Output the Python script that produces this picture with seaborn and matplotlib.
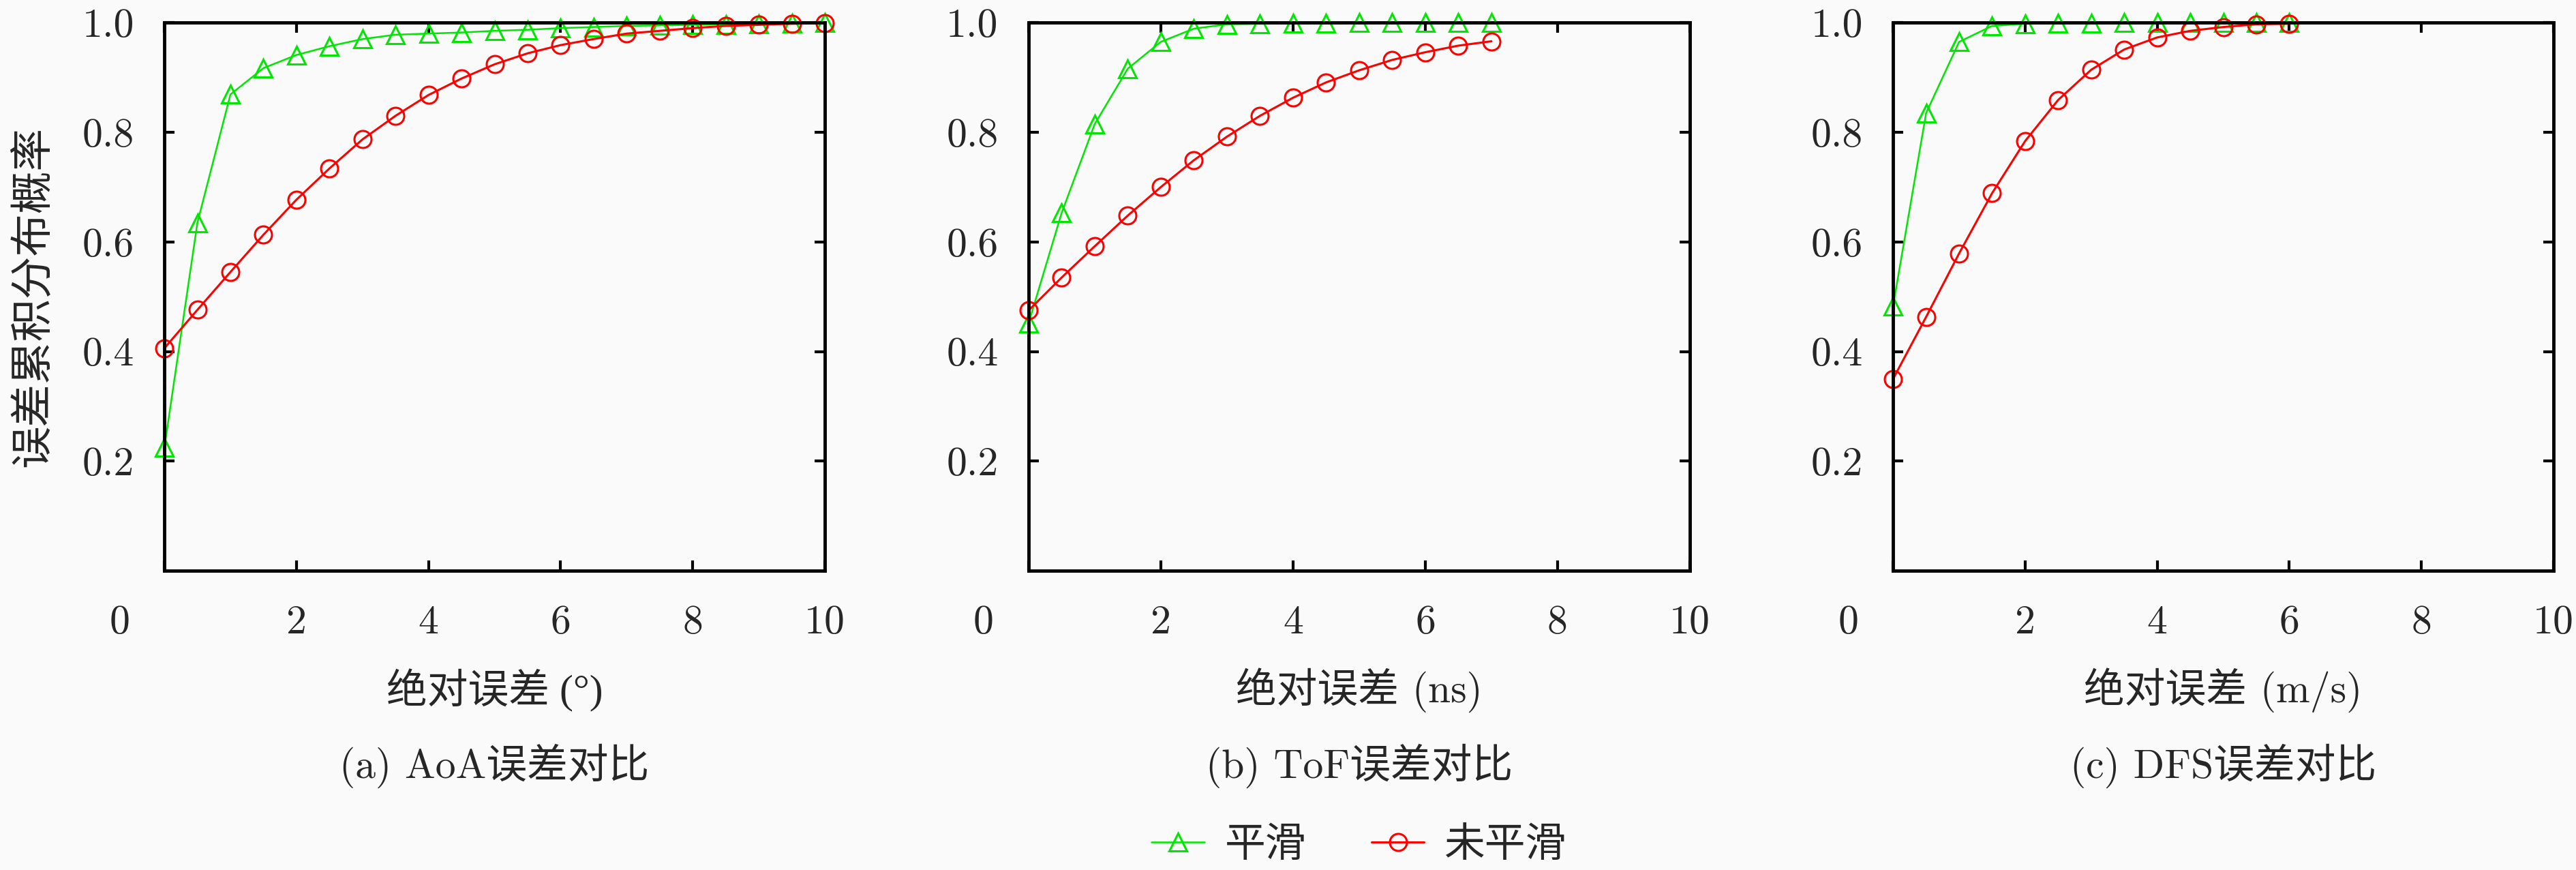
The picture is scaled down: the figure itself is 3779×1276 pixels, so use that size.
import numpy as np
import pandas as pd
import matplotlib
matplotlib.use('Agg')
import matplotlib.pyplot as plt
import matplotlib.transforms as mtransforms
import seaborn as sns

# Values
x_aoa = [0, 0.5, 1, 1.5, 2, 2.5, 3, 3.5, 4, 4.5, 5, 5.5, 6, 6.5, 7, 7.5, 8, 8.5, 9, 9.5, 10]
aoa_smooth = [0.225, 0.635, 0.869, 0.917, 0.941, 0.957, 0.970, 0.978, 0.980, 0.982, 0.985,
              0.987, 0.990, 0.992, 0.994, 0.995, 0.996, 0.997, 0.998, 0.999, 1.0]
aoa_raw = [0.406, 0.476, 0.545, 0.613, 0.677, 0.734, 0.787, 0.830, 0.868, 0.898, 0.924,
           0.944, 0.959, 0.970, 0.980, 0.985, 0.990, 0.994, 0.996, 0.998, 0.999]

x_tof = [0, 0.5, 1, 1.5, 2, 2.5, 3, 3.5, 4, 4.5, 5, 5.5, 6, 6.5, 7]
tof_smooth = [0.452, 0.653, 0.815, 0.916, 0.965, 0.989, 0.997, 0.998, 0.999, 0.999, 1.0,
              1.0, 1.0, 1.0, 1.0]
tof_raw = [0.475, 0.535, 0.592, 0.648, 0.700, 0.749, 0.792, 0.830, 0.863, 0.891, 0.913,
           0.932, 0.946, 0.958, 0.966]

x_dfs = [0, 0.5, 1, 1.5, 2, 2.5, 3, 3.5, 4, 4.5, 5, 5.5, 6]
dfs_smooth = [0.483, 0.835, 0.965, 0.994, 0.998, 0.999, 0.999, 1.0, 1.0, 1.0, 1.0, 1.0, 1.0]
dfs_raw = [0.350, 0.463, 0.579, 0.689, 0.784, 0.859, 0.914, 0.951, 0.973, 0.985, 0.992,
           0.997, 0.998]

x_ticks = [0, 2, 4, 6, 8, 10]
x_tick_labels = ['0', '2', '4', '6', '8', '10']
y_ticks = [0.2, 0.4, 0.6, 0.8, 1.0]
y_tick_labels = ['0.2', '0.4', '0.6', '0.8', '1.0']

x_titles = ['绝对误差 (°)', '绝对误差 (ns)', '绝对误差 (m/s)']
sub_titles = ['(a) AoA误差对比', '(b) ToF误差对比', '(c) DFS误差对比']
y_title = '误差累积分布概率'
series_names = ['平滑', '未平滑']

sns.set_theme(style='ticks')
main_fonts = ['cmr10', 'Noto Sans CJK SC', 'DejaVu Sans']
# cmr10 maps U+00B0 to a ligature, so the degree label starts from a font that has a real degree sign
degree_fonts = ['Liberation Serif', 'Noto Sans CJK SC', 'DejaVu Sans']
plt.rcParams['font.family'] = main_fonts
plt.rcParams['axes.unicode_minus'] = False

green = '#00e600'
red = '#ff0000'
bg = '#fafafa'
fs = 43

fig = plt.figure(figsize=(37.8, 12.76), dpi=100, facecolor=bg)

# axes boxes (figure fractions)
boxes = [[0.0638, 0.344, 0.2563, 0.630],
         [0.3992, 0.344, 0.2566, 0.630],
         [0.7347, 0.344, 0.2563, 0.630]]

panels = [(x_aoa, aoa_smooth, aoa_raw), (x_tof, tof_smooth, tof_raw), (x_dfs, dfs_smooth, dfs_raw)]

axes = []
for i, (xs, ys_s, ys_r) in enumerate(panels):
    ax = fig.add_axes(boxes[i])
    ax.set_facecolor(bg)
    df_s = pd.DataFrame({'x': xs, 'y': ys_s})
    df_r = pd.DataFrame({'x': xs, 'y': ys_r})
    sns.lineplot(data=df_s, x='x', y='y', ax=ax, color=green, marker='^', markersize=19,
                 mfc='none', mec=green, mew=2.2, lw=1.8, errorbar=None, clip_on=False,
                 label=series_names[0])
    sns.lineplot(data=df_r, x='x', y='y', ax=ax, color=red, marker='o', markersize=18,
                 mfc='none', mec=red, mew=2.2, lw=2.2, errorbar=None, clip_on=False,
                 label=series_names[1])
    ax.get_legend().remove()

    ax.set_xlim(0, 10)
    ax.set_ylim(0, 1)
    ax.set_xticks(x_ticks)
    ax.set_xticklabels(x_tick_labels, fontsize=fs)
    ax.set_yticks(y_ticks)
    ax.set_yticklabels(y_tick_labels, fontsize=fs)
    ax.tick_params(axis='both', direction='in', top=True, right=True, length=11, width=3,
                   color='black')
    ax.tick_params(axis='x', pad=36)
    ax.tick_params(axis='y', pad=32)
    for sp in ax.spines.values():
        sp.set_linewidth(3.5)
        sp.set_color('black')

    fam = degree_fonts if '°' in x_titles[i] else main_fonts
    ax.set_xlabel(x_titles[i], fontsize=fs, va='center', family=fam)
    ax.xaxis.set_label_coords(0.5, -0.218)
    ax.set_ylabel('')
    ax.text(0.5, -0.356, sub_titles[i], transform=ax.transAxes, ha='center', va='center',
            fontsize=fs)

    # the "0" label sits left of the axis corner in the original
    offset = mtransforms.ScaledTranslation(-0.66, 0, fig.dpi_scale_trans)
    first = ax.get_xticklabels()[0]
    first.set_transform(first.get_transform() + offset)
    axes.append(ax)

axes[0].set_ylabel(y_title, fontsize=fs + 2, va='center')
axes[0].yaxis.set_label_coords(-0.199, 0.5)

handles, labels = axes[0].get_legend_handles_labels()
fig.legend(handles, labels, loc='center', bbox_to_anchor=(0.5275, 0.028), ncol=2,
           frameon=False, fontsize=fs, handlelength=1.3, columnspacing=1.6, handletextpad=0.5)

fig.savefig('out.png', dpi=100, facecolor=bg)
